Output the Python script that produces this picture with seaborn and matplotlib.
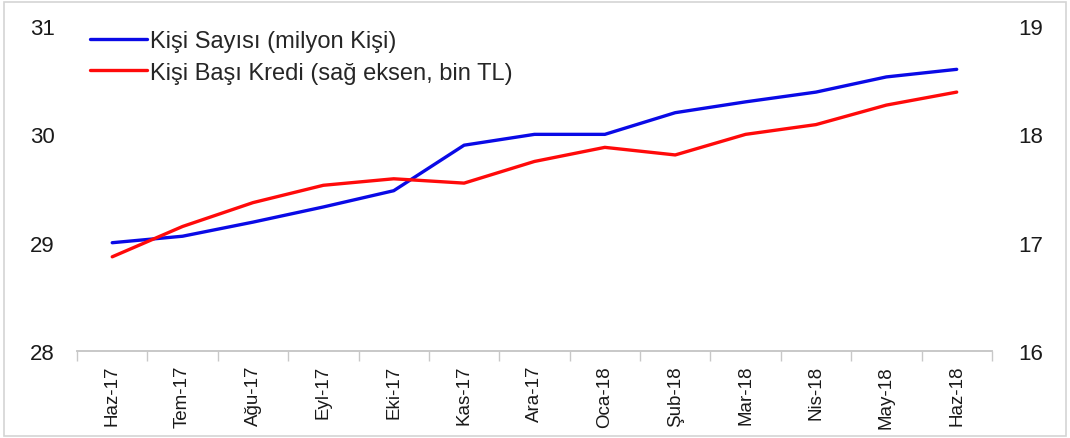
import matplotlib
matplotlib.use("Agg")
import matplotlib.pyplot as plt
import seaborn as sns
import pandas as pd
import numpy as np
from matplotlib.patches import Rectangle

months = ["Haz-17", "Tem-17", "Ağu-17", "Eyl-17", "Eki-17", "Kas-17", "Ara-17",
          "Oca-18", "Şub-18", "Mar-18", "Nis-18", "May-18", "Haz-18"]
kisi_sayisi = [29.00, 29.06, 29.19, 29.33, 29.48, 29.90, 30.00,
               30.00, 30.20, 30.30, 30.39, 30.53, 30.60]
kisi_basi_kredi = [16.87, 17.15, 17.37, 17.53, 17.59, 17.55, 17.75,
                   17.88, 17.81, 18.00, 18.09, 18.27, 18.39]

label_blue = "Kişi Sayısı (milyon Kişi)"
label_red = "Kişi Başı Kredi (sağ eksen, bin TL)"

sns.set_theme(style="white")
plt.rcParams["font.family"] = ["Liberation Sans", "DejaVu Sans"]

df = pd.DataFrame({"Ay": months, "sayi": kisi_sayisi, "kredi": kisi_basi_kredi})

fig = plt.figure(figsize=(10.70, 4.39), dpi=100)
ax = fig.add_axes([0.072, 0.198, 0.855, 0.7405])
ax2 = ax.twinx()

sns.lineplot(data=df, x="Ay", y="sayi", ax=ax, color="#0a0ae6", linewidth=2.4,
             label=label_blue, sort=False)
sns.lineplot(data=df, x="Ay", y="kredi", ax=ax2, color="#ff0a0a", linewidth=2.4,
             label=label_red, sort=False)

ax.set_xlim(-0.5, len(months) - 0.5)
ax.set_ylim(28, 31)
ax2.set_ylim(16, 19)
ax.set_yticks([28, 29, 30, 31])
ax2.set_yticks([16, 17, 18, 19])
ax.set_xlabel("")
ax.set_ylabel("")
ax2.set_ylabel("")

ax.set_xticks(range(len(months)))
ax.set_xticklabels(months, rotation=90, fontsize=13.5, color="#1a1a1a")
ax.set_xticks(np.arange(-0.5, len(months), 1.0), minor=True)
ax.tick_params(axis="x", which="major", length=0, pad=10)
ax.tick_params(axis="x", which="minor", length=7, width=1, color="#c8c8c8", direction="out", bottom=True)
ax.tick_params(axis="y", length=0, labelsize=16, labelcolor="#1a1a1a", pad=16)
ax2.tick_params(axis="y", length=0, labelsize=16, labelcolor="#1a1a1a", pad=19)

for a in (ax, ax2):
    for s in ("top", "left", "right"):
        a.spines[s].set_visible(False)
    a.spines["bottom"].set_color("#c8c8c8")
    a.spines["bottom"].set_linewidth(1.2)
    a.grid(False)

h1, l1 = ax.get_legend_handles_labels()
h2, l2 = ax2.get_legend_handles_labels()
if ax2.get_legend():
    ax2.get_legend().remove()
ax.legend(h1 + h2, l1 + l2, loc="upper left", bbox_to_anchor=(-0.006, 1.045),
          frameon=False, fontsize=17, handlelength=2.4, handletextpad=0.12,
          labelspacing=0.4, borderaxespad=0.4)

fig.patches.append(Rectangle((0.004, 0.004), 0.992, 0.990, transform=fig.transFigure,
                             fill=False, edgecolor="#d4d4d4", linewidth=1.2))

fig.savefig("out.png", dpi=100)
